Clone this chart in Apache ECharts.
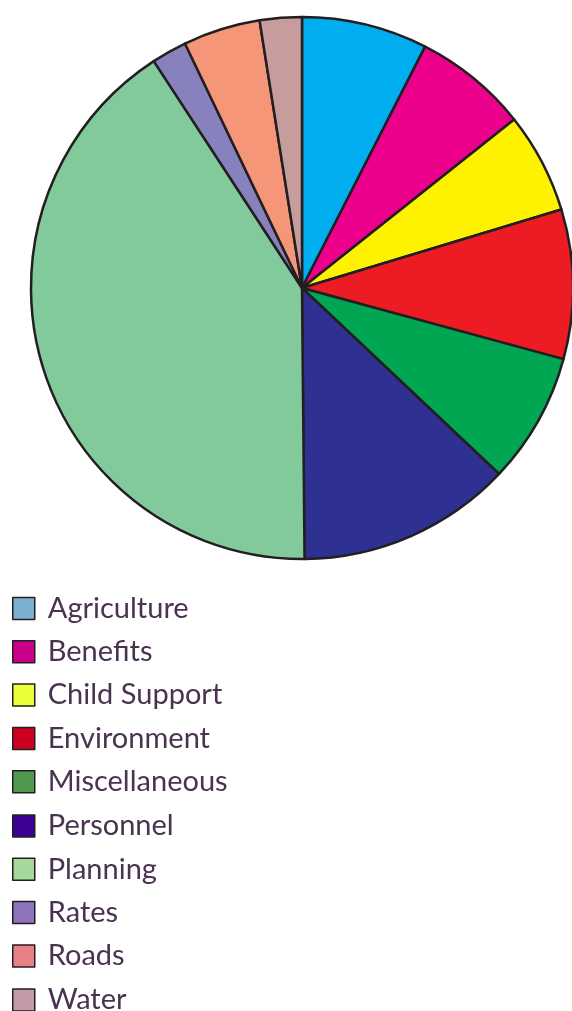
<!DOCTYPE html>
<html>
<head>
<meta charset="utf-8">
<style>
  html, body { margin: 0; padding: 0; background: #ffffff; }
  #chart { width: 572px; height: 1011px; }
</style>
<script src="https://cdn.jsdelivr.net/npm/echarts@6/dist/echarts.min.js"></script>
</head>
<body>
<div id="chart"></div>
<script>
// Spending by department (share of total, %)
const categories = ['Agriculture', 'Benefits', 'Child Support', 'Environment', 'Miscellaneous',
                    'Personnel', 'Planning', 'Rates', 'Roads', 'Water'];
const values = [7.5, 6.8, 6.0, 8.9, 7.8, 12.8, 40.9, 2.1, 4.6, 2.5];

// Fill colours of the slices
const sliceColors = ['#00aeef', '#ec008c', '#fff200', '#ed1c24', '#00a651',
                     '#2e3192', '#82ca9c', '#8781bd', '#f69679', '#c69c9d'];
// Swatch colours in the key
const keyColors = ['#7bb0cf', '#c8008a', '#eaff38', '#cc0020', '#4f9a50',
                   '#3d0092', '#a4d99a', '#8f74bd', '#e88088', '#c49aa9'];

const chart = echarts.init(document.getElementById('chart'), null, { renderer: 'canvas' });

// The key is built from stacked blocks so no block wraps into a second column
const ROW = 43.5;
const KEY_TOP = 594;
function keyBlock(from, to) {
  const names = categories.slice(from, to);
  return {
    orient: 'vertical',
    left: 12,
    top: KEY_TOP + from * ROW,
    padding: 0,
    itemWidth: 22,
    itemHeight: 22,
    itemGap: 14.3,
    icon: 'rect',
    selectedMode: false,
    textStyle: {
      fontFamily: 'Lato',
      fontSize: 29,
      color: '#4a3350',
      padding: [0, 0, 0, 8]
    },
    data: names.map((name) => {
      const i = categories.indexOf(name);
      return {
        name: name,
        itemStyle: { color: keyColors[i], borderColor: '#231f20', borderWidth: 1.5 }
      };
    })
  };
}

chart.setOption({
  animation: false,
  backgroundColor: '#ffffff',
  legend: [
    keyBlock(0, 5),
    keyBlock(5, 9),
    keyBlock(9, 10)
  ],
  series: [{
    type: 'pie',
    center: [302, 288],
    radius: [0, 271],
    startAngle: 90,
    clockwise: true,
    label: { show: false },
    labelLine: { show: false },
    emphasis: { disabled: true },
    itemStyle: { borderColor: '#231f20', borderWidth: 2.5 },
    data: categories.map((name, i) => ({
      name: name,
      value: values[i],
      itemStyle: { color: sliceColors[i] }
    }))
  }]
});
</script>
</body>
</html>
